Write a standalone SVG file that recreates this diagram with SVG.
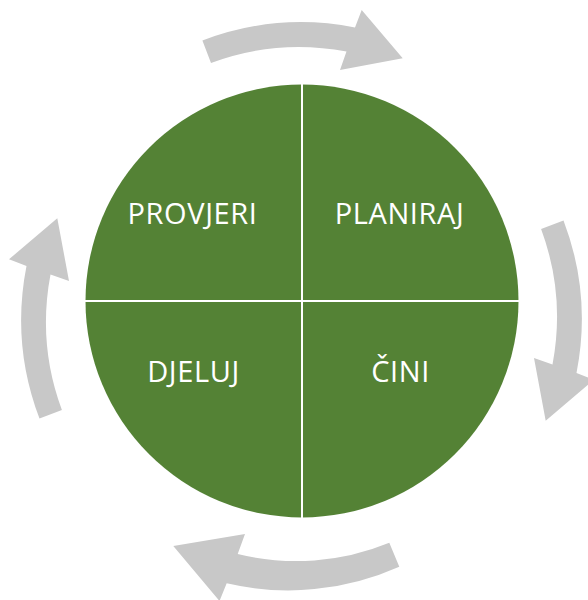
<svg xmlns="http://www.w3.org/2000/svg" xmlns:xlink="http://www.w3.org/1999/xlink" width="588" height="600" viewBox="0 0 588 600">
<style>
.arrow{fill:#C8C8C8;}
.quad{fill:#548235;}
.div{stroke:#FFFFFF;stroke-width:2;}
.lbl{font-family:"Open Sans","Liberation Sans",sans-serif;font-size:29px;fill:#FFFFFF;text-anchor:middle;letter-spacing:0.6px;}
</style>
<defs>
<path id="arc-arrow" d="M-99.6,-259.5 A278,278 0 0 1 53,-272.5 L59.7,-290 L100.7,-241.7 L38,-230 L44.5,-248.5 A254,254 0 0 0 -91,-237.1 Z"/>
</defs>
<g id="connectors">
<use xlink:href="#arc-arrow" href="#arc-arrow" class="arrow" transform="translate(302,300)"/>
<use xlink:href="#arc-arrow" href="#arc-arrow" class="arrow" transform="translate(304,320) rotate(90)"/>
<use xlink:href="#arc-arrow" href="#arc-arrow" class="arrow" transform="translate(299,319) rotate(-90)"/>
<path class="arrow" d="M399.3,566.7 L389.3,542.7 A245,245 0 0 1 237.7,554 L245,534 L173.3,546 L219.5,601 L226.7,583.3 A272,272 0 0 0 399.3,566.7 Z"/>
</g>
<g id="circle">
<circle class="quad" cx="302" cy="301" r="216.5"/>
<line class="div" x1="302" y1="82" x2="302" y2="520"/>
<line class="div" x1="83" y1="301" x2="521" y2="301"/>
</g>
<g id="node-provjeri"><text class="lbl" x="192.5" y="224.3">PROVJERI</text></g>
<g id="node-planiraj"><text class="lbl" x="399.5" y="224.3">PLANIRAJ</text></g>
<g id="node-djeluj"><text class="lbl" x="193.5" y="381.7">DJELUJ</text></g>
<g id="node-cini"><text class="lbl" x="400.5" y="381.7">ČINI</text></g>
</svg>
